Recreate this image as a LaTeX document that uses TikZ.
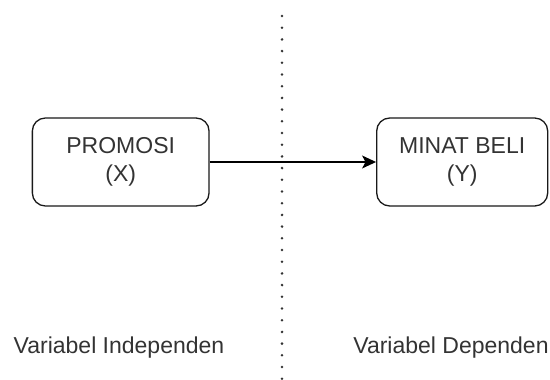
\documentclass[tikz,border=0pt]{standalone}
\usepackage{fontspec}
\setmainfont{Liberation Sans}
\usetikzlibrary{arrows.meta}
\begin{document}
\begin{tikzpicture}[x=1pt,y=-1pt,
  box/.style={draw=black!90, line width=1.3pt, rounded corners=13pt, minimum height=88pt, align=center, text=black!80, font=\fontsize{23}{27.6}\selectfont, inner sep=0pt},
  lbl/.style={text=black!80, font=\fontsize{23}{27.6}\selectfont, inner sep=0pt},
  conn/.style={line width=1.3pt, draw=black, -{Stealth[length=14pt,width=13pt,inset=3.5pt]}}]
\useasboundingbox (0,0) rectangle (550,380);
\coordinate (dtop) at (282,16);
\coordinate (dbot) at (282,380);
\draw[line width=2.8pt, line cap=round, black!80, dash pattern=on 0pt off 11.7pt] (dtop) -- (dbot);
\node[box, minimum width=176.7pt] (x) at (120.7,162) {PROMOSI\\(X)};
\node[box, minimum width=171pt] (y) at (462.2,162) {MINAT BELI\\(Y)};
\draw[conn] (x.east) -- (y.west);
\node[lbl, anchor=base] (li) at (119,353) {Variabel Independen};
\node[lbl, anchor=base] (ld) at (451,353) {Variabel Dependen};
\end{tikzpicture}
\end{document}
